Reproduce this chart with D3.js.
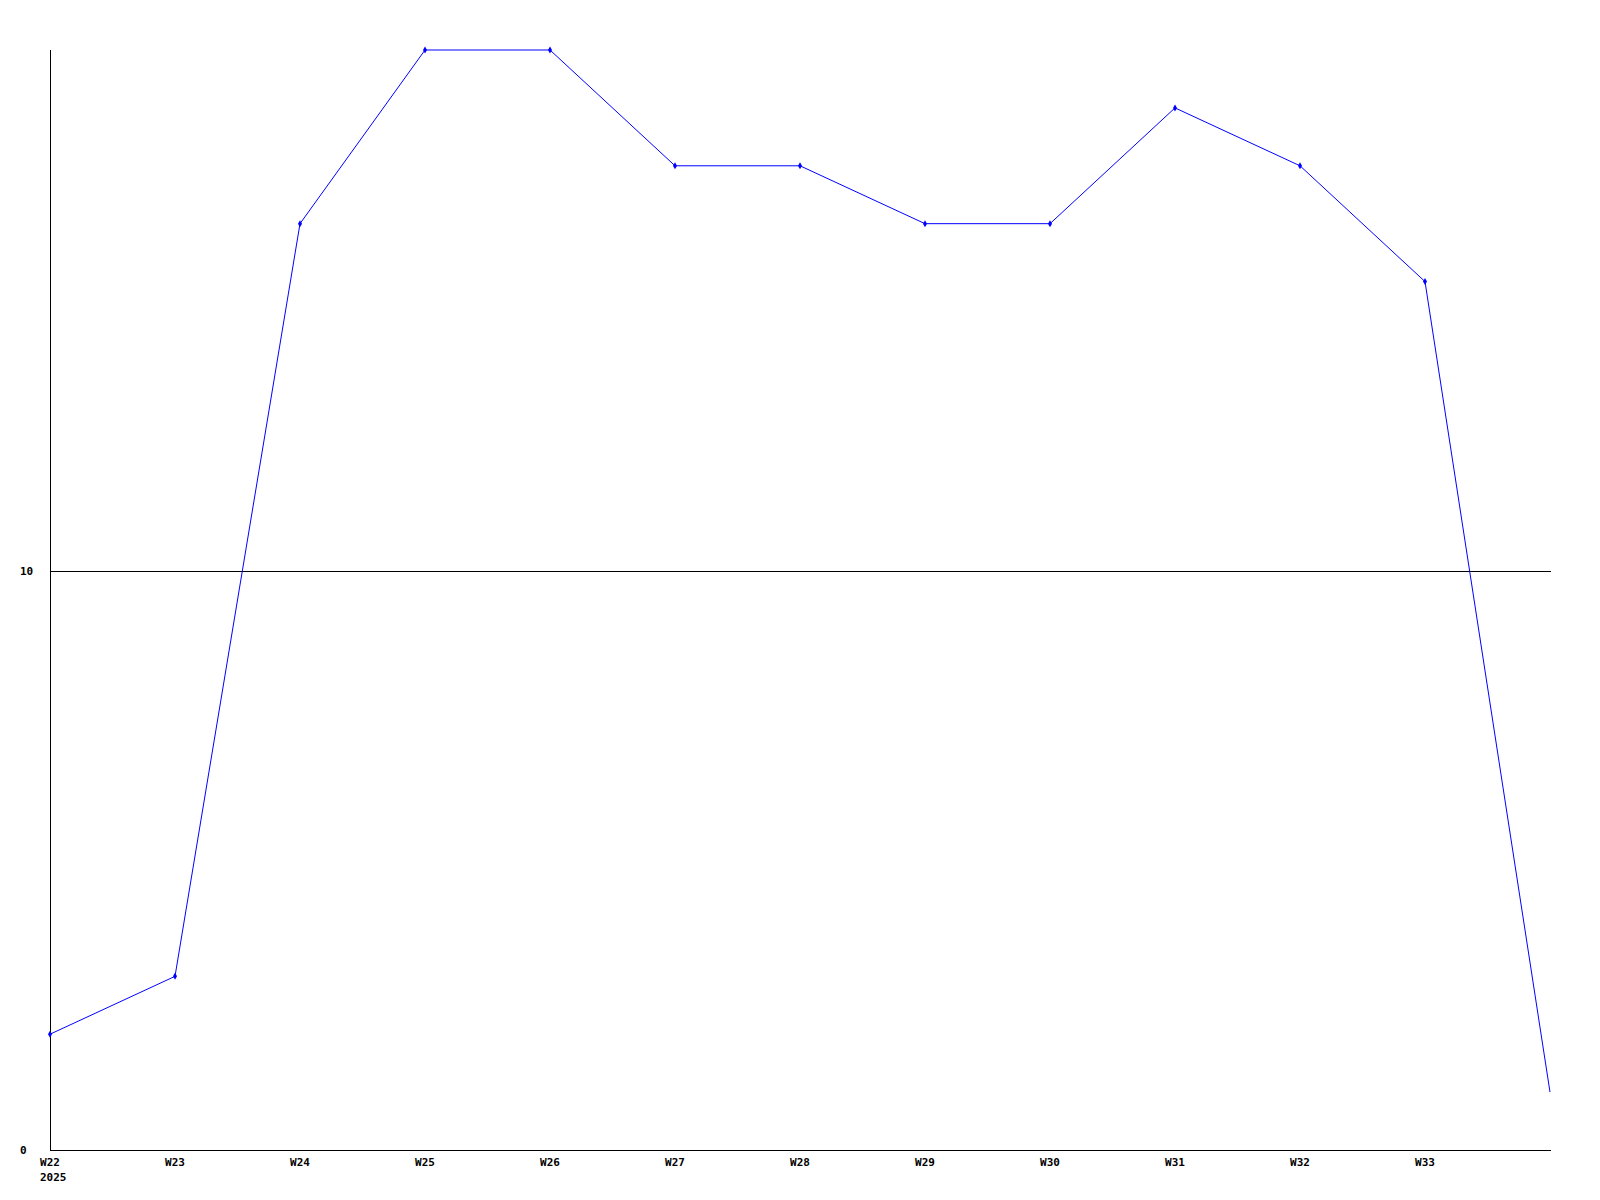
<!DOCTYPE html>
<html><head><meta charset="utf-8">
<script src="https://cdn.jsdelivr.net/npm/d3@7"></script>
<style>body{margin:0;background:#fff}svg{display:block}text{font-family:"DejaVu Sans Mono","Liberation Mono",monospace;font-weight:bold;font-size:11px;fill:#000}</style>
</head><body>
<script>
const weeks = ["W22","W23","W24","W25","W26","W27","W28","W29","W30","W31","W32","W33","W34"];
const values = [2,3,16,19,19,17,17,16,16,18,17,15,1];
const markerShown = [true,true,true,true,true,true,true,true,true,true,true,true,false];
const tickLabels = ["W22","W23","W24","W25","W26","W27","W28","W29","W30","W31","W32","W33"];
const yTicks = [0,10];
const yearLabel = "2025";

const W=1600,H=1200;
const svg=d3.select("body").append("svg").attr("width",W).attr("height",H);
const x=d3.scalePoint().domain(weeks).range([50,1550]);
const y=d3.scaleLinear().domain([0,19]).range([1150,50]);

svg.append("line").attr("x1",50.5).attr("x2",50.5).attr("y1",50).attr("y2",1150).attr("stroke","#000");
svg.append("line").attr("x1",50).attr("x2",1551).attr("y1",1150.5).attr("y2",1150.5).attr("stroke","#000");
svg.append("line").attr("x1",50).attr("x2",1551).attr("y1",Math.round(y(10))+0.5).attr("y2",Math.round(y(10))+0.5).attr("stroke","#000");

svg.selectAll(".yl").data(yTicks).enter().append("text")
  .attr("x",20).attr("y",d=>y(d)+4).attr("text-anchor","start").text(d=>d);

svg.selectAll(".xl").data(tickLabels).enter().append("text")
  .attr("x",d=>x(d)).attr("y",1166).attr("text-anchor","middle").text(d=>d);
svg.append("text").attr("x",x("W22")-10).attr("y",1181).attr("text-anchor","start").text(yearLabel);

const line=d3.line().x((d,i)=>x(weeks[i])).y(d=>y(d));
svg.append("path").datum(values).attr("d",line).attr("fill","none").attr("stroke","#0000ff").attr("stroke-width",1);

svg.selectAll(".m").data(values.map((v,i)=>({v,i})).filter(d=>markerShown[d.i])).enter().append("path")
  .attr("d",d3.symbol().type(d3.symbolDiamond).size(14))
  .attr("transform",d=>`translate(${x(weeks[d.i])},${y(d.v)})`)
  .attr("fill","#0000ff");
</script>
</body></html>
